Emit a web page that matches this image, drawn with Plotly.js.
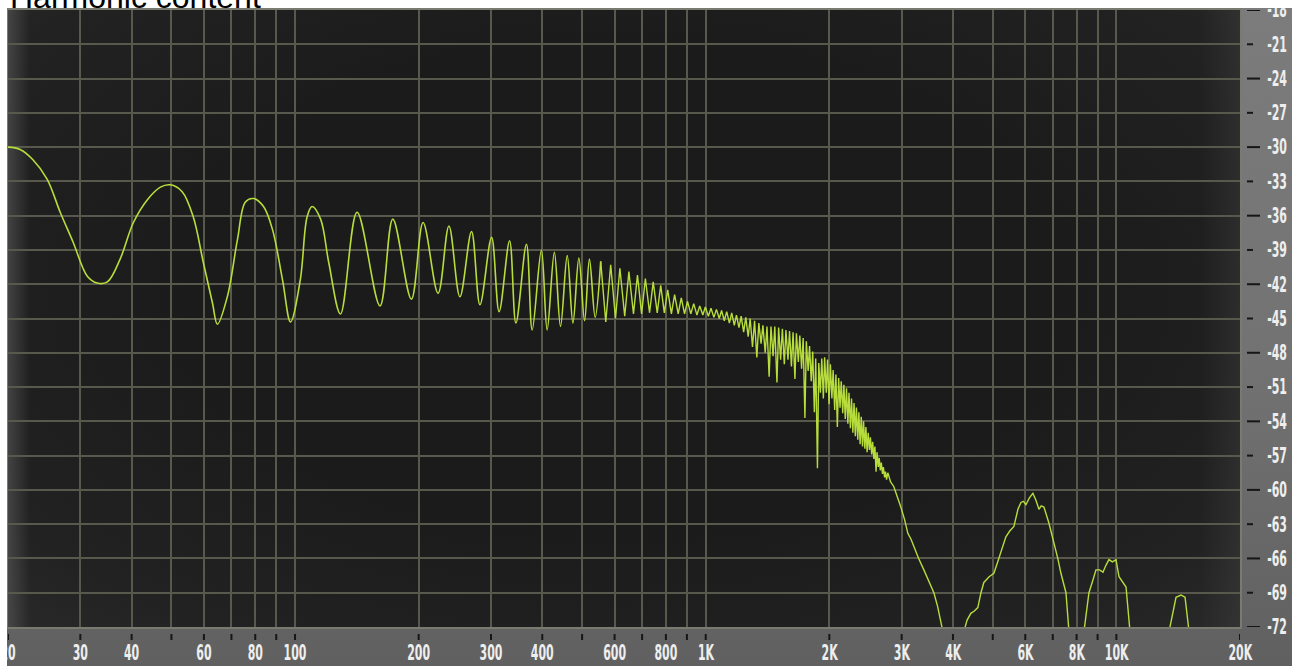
<!DOCTYPE html>
<html>
<head>
<meta charset="utf-8">
<script src="https://cdn.plot.ly/plotly-3.0.1.min.js"></script>
<style>
html,body{margin:0;padding:0;background:#fff;width:1292px;height:666px;overflow:hidden;}
#panel{position:absolute;left:7px;top:8px;width:1285px;height:658px;
  background:linear-gradient(to bottom,#7c7c7c 0%,#727272 55%,#606060 100%);}
#screen{position:absolute;left:8px;top:10px;width:1232px;height:617px;
  background:
    linear-gradient(to right, rgba(95,95,95,0.55) 0px, rgba(60,60,60,0) 22px),
    linear-gradient(to left, rgba(70,70,70,0.35) 0px, rgba(60,60,60,0) 40px),
    radial-gradient(ellipse at 50% 45%, #1b1b1b 50%, #222 85%, #292929 100%);}
#chart{position:absolute;left:0;top:0;width:1292px;height:666px;}
#mask{position:absolute;left:0;top:0;width:7px;height:666px;background:#fff;}
#maskTop{position:absolute;left:1241px;top:0;width:51px;height:8px;background:#fff;}
/* tall, narrow instrument-style lettering */
#chart g.xtick{transform-box:fill-box;transform-origin:center;transform:scaleX(0.58);}
#chart g.ytick{transform-box:fill-box;transform-origin:left center;transform:scaleX(0.58);}
</style>
</head>
<body>
<div id="panel"></div>
<div id="screen"></div>
<div id="chart"></div>
<div id="mask"></div>
<div id="maskTop"></div>
<script>
// ---- Data ----
// Smooth low-frequency part (Hz, dB)
const lowFreq = [20, 21.4, 23.0, 24.9, 26.8, 28.8, 31.2, 33.0, 34.9, 37.5, 40.4, 43.7, 47.0, 49.7, 53.1, 56.5, 59.8, 62.9, 64.7, 68.4, 72.4, 75.7, 79.2, 83.8, 88.1, 93.2, 97.5, 103, 107, 110, 115.4, 120.8, 129, 141.6, 161, 173, 192, 205, 223, 237, 252, 269, 282, 301, 314, 333, 345, 366, 378, 398, 411, 428, 443, 460, 475, 491, 507, 521, 538, 555];
const lowLevel = [-30.0, -30.2, -31.1, -32.8, -35.7, -38.3, -41.3, -41.9, -41.8, -39.8, -36.6, -34.6, -33.5, -33.3, -33.9, -36.1, -40.1, -43.6, -45.5, -43.1, -38.1, -34.8, -34.5, -35.2, -37.2, -41.6, -45.3, -41.6, -36.1, -35.2, -36.3, -40.1, -44.6, -35.7, -43.9, -36.3, -43.3, -36.6, -42.8, -36.9, -43.1, -37.4, -43.8, -37.9, -44.4, -38.2, -45.4, -38.5, -46.0, -39.0, -46.0, -39.2, -45.7, -39.5, -45.4, -39.7, -45.2, -39.8, -44.9, -40.0];

// Dense comb part and high-frequency tail (Hz, dB)
const highFreq = [555, 571, 587, 603, 618, 635, 650, 667, 682, 698, 713, 730, 745, 762, 777, 793, 808, 825, 840, 857, 872, 888, 903, 920, 935, 952, 967, 984, 998, 1015,
  1030, 1047, 1062, 1079, 1093, 1110, 1125, 1142, 1157, 1174, 1188, 1205, 1220, 1237, 1252, 1269, 1283, 1300, 1315, 1332, 1347, 1364, 1378, 1396, 1410, 1427, 1442, 1459, 1473, 1491,
  1505, 1522, 1537, 1554, 1568, 1586, 1600, 1617, 1632, 1649, 1663, 1681, 1695, 1712, 1727, 1744, 1758, 1776, 1790, 1807, 1822, 1839, 1853, 1871, 1885, 1902, 1917, 1934, 1948, 1966,
  1980, 1997, 2012, 2029, 2043, 2061, 2075, 2092, 2107, 2124, 2138, 2156, 2170, 2187, 2202, 2219, 2233, 2251, 2265, 2282, 2297, 2314, 2328, 2346, 2360, 2377, 2392, 2409, 2423, 2441,
  2455, 2472, 2487, 2504, 2518, 2536, 2550, 2567, 2582, 2599, 2613, 2631, 2645, 2662, 2677, 2694, 2708, 2726, 2740, 2757, 2776, 2820, 2870, 2930, 2986, 3050, 3106, 3160, 3212, 3300,
  3398, 3500, 3594, 3670, 3738, 3780, 4000, 4252, 4330, 4422, 4510, 4598, 4680, 4756, 4900, 5032, 5130, 5234, 5382, 5500, 5630, 5758, 5856, 5940, 6022, 6140, 6262, 6370, 6478, 6560,
  6662, 6850, 7046, 7200, 7328, 7538, 7666, 8000, 8338, 8574, 8750, 8920, 9100, 9276, 9430, 9592, 9780, 9978, 10148, 10350, 10556, 10794, 12000, 13434, 13972, 14370, 14696, 15030, 17000, 20000];
const highLevel = [-40.0, -45.3, -40.3, -45.0, -40.6, -44.8, -40.9, -44.6, -41.2, -44.6, -41.5, -44.5, -41.8, -44.5, -42.1, -44.5, -42.5, -44.6, -42.9, -44.6, -43.2, -44.6, -43.5, -44.6, -43.7, -44.7, -43.9, -44.7, -44.0, -44.8,
  -44.1, -44.9, -44.2, -45.0, -44.3, -45.2, -44.4, -45.4, -44.5, -45.6, -44.7, -45.8, -44.8, -46.2, -44.9, -46.6, -45.0, -47.5, -45.2, -48.4, -45.4, -47.2, -45.6, -48.0, -45.7, -50.1, -45.7, -48.3, -45.7, -50.6,
  -45.8, -48.6, -45.9, -49.0, -46.0, -48.6, -46.1, -49.2, -46.2, -50.3, -46.3, -48.8, -46.5, -49.4, -46.7, -53.7, -47.0, -49.6, -47.4, -50.5, -47.9, -53.2, -48.5, -58.1, -48.9, -51.5, -48.5, -52.0, -48.4, -51.5,
  -48.6, -52.5, -49.0, -52.0, -49.5, -53.0, -49.9, -54.5, -50.2, -52.8, -50.5, -53.3, -50.8, -53.8, -51.1, -54.2, -51.5, -54.6, -52.0, -55.0, -52.4, -55.3, -52.8, -55.6, -53.2, -56.0, -53.6, -56.2, -54.0, -56.4,
  -54.5, -56.7, -55.0, -56.5, -55.4, -56.9, -55.8, -57.3, -56.2, -58.4, -56.7, -58.0, -57.2, -58.3, -57.6, -58.6, -58.0, -58.9, -58.4, -59.1, -58.5, -59.3, -59.7, -60.6, -61.5, -62.6, -63.8, -64.3, -65.0, -66.0,
  -67.0, -68.0, -69.0, -70.2, -71.4, -72.4, -80, -72.4, -71.4, -70.8, -70.6, -70.3, -69.0, -68.1, -67.6, -67.3, -66.4, -65.5, -64.1, -63.6, -63.2, -61.7, -61.1, -61.0, -61.3, -60.7, -60.3, -60.9, -61.7, -61.4,
  -61.5, -62.9, -64.6, -66.0, -67.3, -69.0, -72.4, -80, -72.4, -69.0, -68.0, -67.0, -67.0, -67.2, -66.6, -66.1, -66.3, -66.1, -67.6, -68.0, -68.5, -72.4, -80, -72.4, -69.4, -69.2, -69.4, -72.4, -80, -80];

// Axis ticks
const freqTicks = [20, 30, 40, 50, 60, 70, 80, 90, 100, 200, 300, 400, 500, 600, 700, 800, 900, 1000, 2000, 3000, 4000, 5000, 6000, 7000, 8000, 9000, 10000, 20000];
const freqLabels = ['20', '30', '40', '', '60', '', '80', '', '100', '200', '300', '400', '', '600', '', '800', '', '1K', '2K', '3K', '4K', '', '6K', '', '8K', '', '10K', '20K'];
const levelTicks = [-18, -21, -24, -27, -30, -33, -36, -39, -42, -45, -48, -51, -54, -57, -60, -63, -66, -69, -72];
const levelLabels = ['-18', '-21', '-24', '-27', '-30', '-33', '-36', '-39', '-42', '-45', '-48', '-51', '-54', '-57', '-60', '-63', '-66', '-69', '-72'];

const chartTitle = 'Harmonic content';

// ---- Styling ----
const lineColor = '#b7dd3c';
const labelFont = {family: 'DejaVu Sans Condensed, DejaVu Sans, sans-serif', size: 21, color: '#eeeeee', weight: 'bold'};
const gridColor = '#58584d';
const frameColor = '#7a7a70';
const plotW = 1232, plotH = 617;

const traces = [
  {x: lowFreq, y: lowLevel, type: 'scatter', mode: 'lines', line: {color: lineColor, width: 1.6, shape: 'spline', smoothing: 1}, hoverinfo: 'skip'},
  {x: highFreq, y: highLevel, type: 'scatter', mode: 'lines', line: {color: lineColor, width: 1.4}, hoverinfo: 'skip'}
];

const shapes = [];
freqTicks.forEach(function (f) {
  shapes.push({type: 'line', xref: 'x', yref: 'paper', x0: f, x1: f, y0: -7 / plotH, y1: -13 / plotH,
    line: {color: '#161616', width: 2}, layer: 'above'});
});
levelTicks.forEach(function (v, i) {
  const major = (i % 2 === 0);
  shapes.push({type: 'line', xref: 'paper', yref: 'y', x0: 1 + 7 / plotW, x1: 1 + (major ? 20 : 13) / plotW, y0: v, y1: v,
    line: {color: '#161616', width: 2}, layer: 'above'});
});

const layout = {
  width: 1292, height: 666,
  margin: {l: 8, r: 52, t: 10, b: 39, pad: 0},
  paper_bgcolor: 'rgba(0,0,0,0)',
  plot_bgcolor: 'rgba(0,0,0,0)',
  showlegend: false,
  xaxis: {
    type: 'log', range: [Math.log10(20), Math.log10(20000)],
    tickmode: 'array', tickvals: freqTicks, ticktext: freqLabels, tickangle: 0,
    showgrid: true, gridcolor: gridColor, gridwidth: 2,
    ticks: 'outside', ticklen: 6, tickcolor: 'rgba(0,0,0,0)',
    tickfont: labelFont, ticklabeloverflow: 'allow',
    showline: true, mirror: true, linecolor: frameColor, linewidth: 2,
    zeroline: false, fixedrange: true
  },
  yaxis: {
    range: [-72, -18], side: 'right',
    tickmode: 'array', tickvals: levelTicks, ticktext: levelLabels, tickangle: 0,
    showgrid: true, gridcolor: gridColor, gridwidth: 2,
    ticks: 'outside', ticklen: 21, tickcolor: 'rgba(0,0,0,0)',
    tickfont: labelFont, ticklabeloverflow: 'allow',
    showline: true, mirror: true, linecolor: frameColor, linewidth: 2,
    zeroline: false, fixedrange: true
  },
  shapes: shapes,
  annotations: [{
    text: chartTitle, xref: 'paper', yref: 'paper', x: 0, y: 1,
    xanchor: 'left', yanchor: 'bottom', yshift: -7, showarrow: false,
    font: {family: 'Liberation Sans, Arial, sans-serif', size: 32, color: '#000'}
  }]
};

Plotly.newPlot('chart', traces, layout, {staticPlot: true, displayModeBar: false});
</script>
</body>
</html>
